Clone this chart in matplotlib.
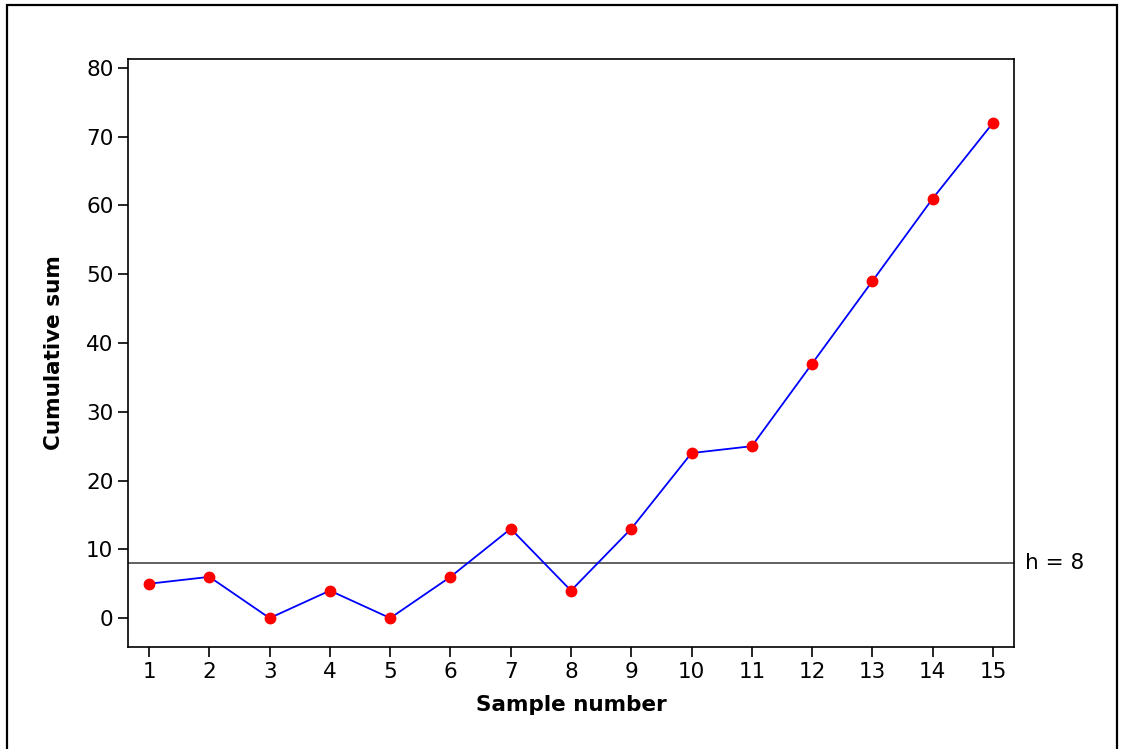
import numpy as np
import matplotlib
matplotlib.use("Agg")
import matplotlib.pyplot as plt
from matplotlib.patches import Rectangle

# CUSUM data
samples = list(range(1, 16))
cusum = [5, 6, 0, 4, 0, 6, 13, 4, 13, 24, 25, 37, 49, 61, 72]
h_value = 8
yticks = [0, 10, 20, 30, 40, 50, 60, 70, 80]

plt.rcParams['font.family'] = ['DejaVu Sans']

fig = plt.figure(figsize=(11.22, 7.49), dpi=100)
ax = fig.add_axes([128/1122, 1 - 647/749, (1014 - 128)/1122, (647 - 59)/749])

# outer frame around the figure
fig.patches.append(Rectangle((7/1122, -0.05), (1117 - 7)/1122, 1.05 - 5/749,
                             transform=fig.transFigure, fill=False,
                             edgecolor='black', linewidth=1.6))

ax.axhline(h_value, color='#555555', linewidth=1.3, zorder=1)
ax.plot(samples, cusum, color='#0000ff', linewidth=1.3, zorder=2)
ax.plot(samples, cusum, 'o', color='#ff0000', markersize=7.5, zorder=3)

ax.text(1.012, h_value, 'h = %d' % h_value, transform=ax.get_yaxis_transform(),
        va='center', ha='left', fontsize=15.5)

ax.set_xlim(0.65, 15.35)
ax.set_ylim(-4.2, 81.3)
ax.set_xticks(samples)
ax.set_yticks(yticks)
ax.tick_params(direction='out', length=7, width=1.2, labelsize=15.5)
ax.tick_params(axis='x', pad=4)
for s in ax.spines.values():
    s.set_linewidth(1.2)

ax.set_xlabel('Sample number', fontsize=15.5, fontweight='bold', labelpad=9)
ax.set_ylabel('Cumulative sum', fontsize=15.5, fontweight='bold', labelpad=16)

fig.savefig('out.png', dpi=100)
